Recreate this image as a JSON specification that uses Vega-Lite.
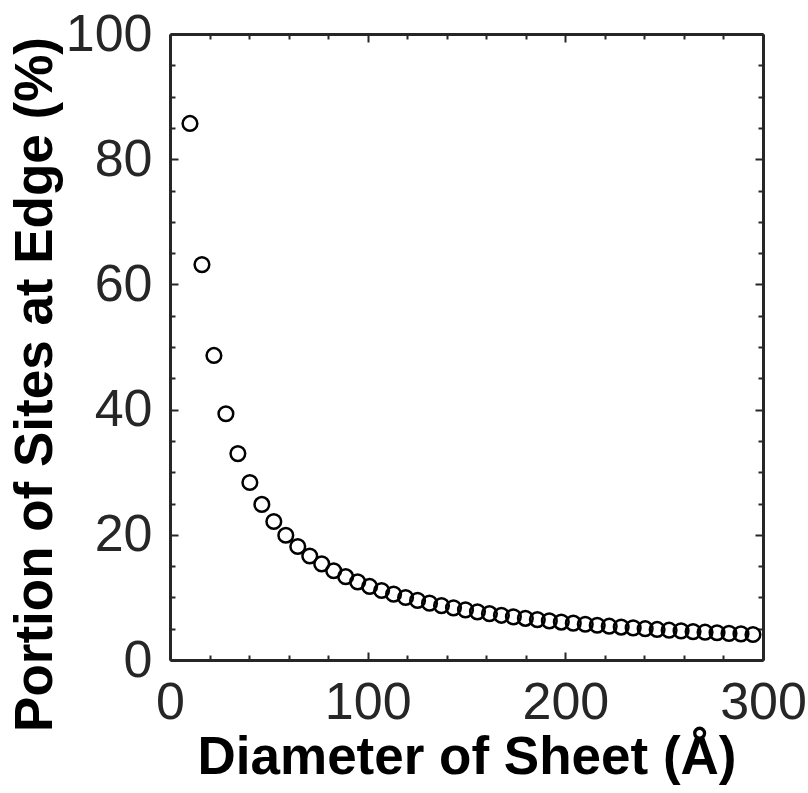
{
  "$schema": "https://vega.github.io/schema/vega-lite/v6.json",
  "width": 593,
  "height": 626,
  "autosize": {"type": "none"},
  "padding": {"left": 170, "top": 34, "right": 45, "bottom": 133},
  "background": "white",
  "config": {"view": {"stroke": null}},
  "data": {"values": [
    {"d": 10.10, "p": 85.71}, {"d": 16.16, "p": 63.16}, {"d": 22.22, "p": 48.65}, {"d": 28.28, "p": 39.34},
    {"d": 34.34, "p": 32.97}, {"d": 40.40, "p": 28.35}, {"d": 46.46, "p": 24.85}, {"d": 52.52, "p": 22.12},
    {"d": 58.58, "p": 19.93}, {"d": 64.64, "p": 18.13}, {"d": 70.70, "p": 16.62}, {"d": 76.76, "p": 15.35},
    {"d": 82.82, "p": 14.26}, {"d": 88.88, "p": 13.31}, {"d": 94.94, "p": 12.48}, {"d": 101.00, "p": 11.75},
    {"d": 107.06, "p": 11.10}, {"d": 113.12, "p": 10.52}, {"d": 119.18, "p": 9.99}, {"d": 125.24, "p": 9.52},
    {"d": 131.30, "p": 9.08}, {"d": 137.36, "p": 8.69}, {"d": 143.42, "p": 8.33}, {"d": 149.48, "p": 8.00},
    {"d": 155.54, "p": 7.69}, {"d": 161.60, "p": 7.40}, {"d": 167.66, "p": 7.14}, {"d": 173.72, "p": 6.89},
    {"d": 179.78, "p": 6.66}, {"d": 185.84, "p": 6.45}, {"d": 191.90, "p": 6.25}, {"d": 197.96, "p": 6.06},
    {"d": 204.02, "p": 5.88}, {"d": 210.08, "p": 5.71}, {"d": 216.14, "p": 5.55}, {"d": 222.20, "p": 5.40},
    {"d": 228.26, "p": 5.26}, {"d": 234.32, "p": 5.13}, {"d": 240.38, "p": 5.00}, {"d": 246.44, "p": 4.88},
    {"d": 252.50, "p": 4.76}, {"d": 258.56, "p": 4.65}, {"d": 264.62, "p": 4.54}, {"d": 270.68, "p": 4.44},
    {"d": 276.74, "p": 4.35}, {"d": 282.80, "p": 4.25}, {"d": 288.86, "p": 4.17}, {"d": 294.92, "p": 4.08}
  ]},
  "resolve": {"axis": {"x": "independent", "y": "independent"}},
  "layer": [
    {
      "mark": {"type": "point", "shape": "circle", "filled": false, "stroke": "black", "strokeWidth": 2.5, "size": 215, "opacity": 1},
      "encoding": {
        "x": {
          "field": "d", "type": "quantitative",
          "scale": {"domain": [0, 300], "nice": false, "zero": false},
          "axis": {
            "orient": "bottom",
            "title": "Diameter of Sheet (Å)",
            "values": [0, 20, 40, 60, 80, 100, 120, 140, 160, 180, 200, 220, 240, 260, 280, 300],
            "labelExpr": "datum.value % 100 === 0 ? datum.label : ''",
            "labelFont": "Liberation Sans", "labelFontSize": 52, "labelColor": "#262626",
            "labelPadding": 25, "labelFlush": false, "labelOverlap": false,
            "tickSize": {"condition": {"test": "datum.value % 100 === 0", "value": -8}, "value": -5},
            "tickColor": "#262626", "tickWidth": 2,
            "domainColor": "#262626", "domainWidth": 3,
            "grid": false,
            "titleFont": "Liberation Sans", "titleFontSize": 53, "titleFontWeight": "bold", "titleColor": "black",
            "titlePadding": 0
          }
        },
        "y": {
          "field": "p", "type": "quantitative",
          "scale": {"domain": [0, 100], "nice": false, "zero": false},
          "axis": {
            "orient": "left",
            "title": "Portion of Sites at Edge (%)",
            "values": [0, 5, 10, 15, 20, 25, 30, 35, 40, 45, 50, 55, 60, 65, 70, 75, 80, 85, 90, 95, 100],
            "labelExpr": "datum.value % 20 === 0 ? datum.label : ''",
            "labelFont": "Liberation Sans", "labelFontSize": 52, "labelColor": "#262626",
            "labelPadding": 26, "labelFlush": false, "labelOverlap": false,
            "tickSize": {"condition": {"test": "datum.value % 20 === 0", "value": -8}, "value": -5},
            "tickColor": "#262626", "tickWidth": 2,
            "domainColor": "#262626", "domainWidth": 3,
            "grid": false,
            "titleFont": "Liberation Sans", "titleFontSize": 53, "titleFontWeight": "bold", "titleColor": "black",
            "titlePadding": 3, "titleY": 350
          }
        }
      }
    },
    {
      "mark": {"type": "point", "opacity": 0},
      "encoding": {
        "x": {
          "field": "d", "type": "quantitative",
          "scale": {"domain": [0, 300], "nice": false, "zero": false},
          "axis": {
            "orient": "top", "title": null, "labels": false,
            "values": [0, 20, 40, 60, 80, 100, 120, 140, 160, 180, 200, 220, 240, 260, 280, 300],
            "tickSize": {"condition": {"test": "datum.value % 100 === 0", "value": -8}, "value": -5},
            "tickColor": "#262626", "tickWidth": 2,
            "domainColor": "#262626", "domainWidth": 3, "grid": false
          }
        },
        "y": {
          "field": "p", "type": "quantitative",
          "scale": {"domain": [0, 100], "nice": false, "zero": false},
          "axis": {
            "orient": "right", "title": null, "labels": false,
            "values": [0, 5, 10, 15, 20, 25, 30, 35, 40, 45, 50, 55, 60, 65, 70, 75, 80, 85, 90, 95, 100],
            "tickSize": {"condition": {"test": "datum.value % 20 === 0", "value": -8}, "value": -5},
            "tickColor": "#262626", "tickWidth": 2,
            "domainColor": "#262626", "domainWidth": 3, "grid": false
          }
        }
      }
    }
  ]
}
